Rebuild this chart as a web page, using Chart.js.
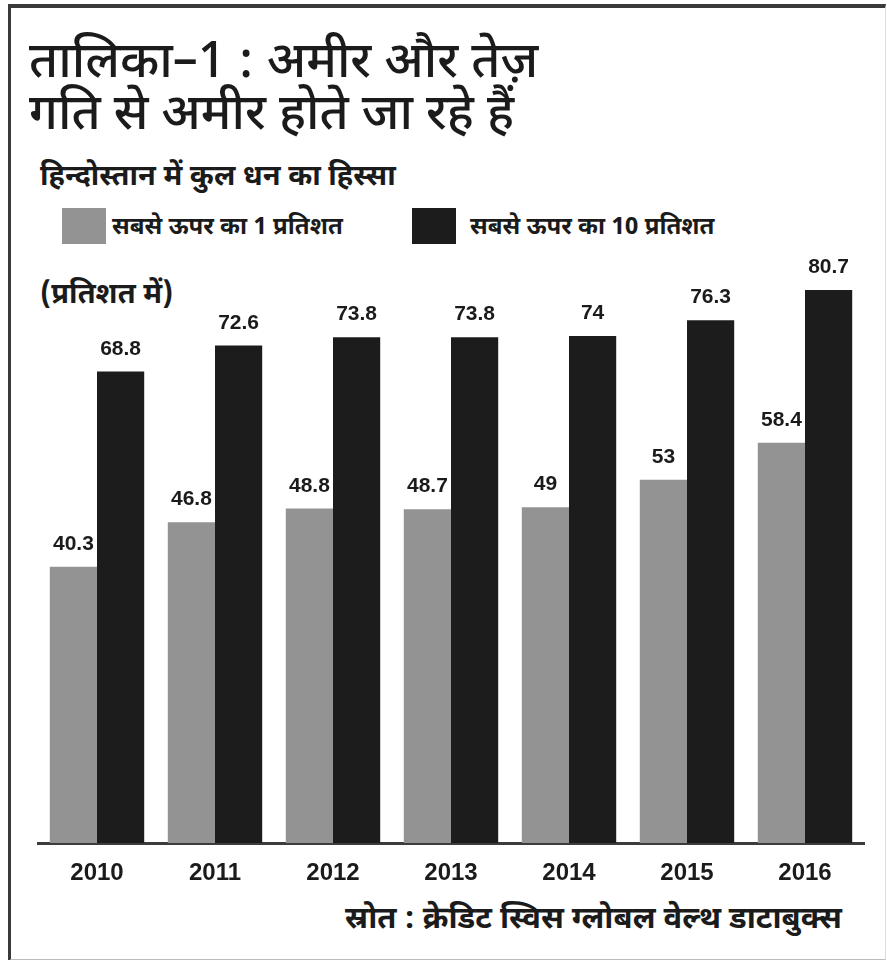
<!DOCTYPE html>
<html>
<head>
<meta charset="utf-8">
<script src="https://cdn.jsdelivr.net/npm/chart.js@4"></script>
<style>
  html, body { margin: 0; padding: 0; background: #fff; }
  body { width: 887px; height: 960px; position: relative; overflow: hidden;
         font-family: "Noto Sans Devanagari", "Lohit Devanagari", "Noto Sans", sans-serif; color: #1b1b1b; }
  #frame { position: absolute; left: 8px; top: 4px; width: 874px; height: 951px;
           border-top: 4px solid #3a3a3a; border-left: 3px solid #3a3a3a;
           border-bottom: 2px solid #bbb; border-right: 1px solid #ddd; }
  .t { position: absolute; white-space: nowrap; }
  #title { left: 29px; top: 39px; font-size: 50px; line-height: 52px; font-weight: 500; }
  #sub { left: 40px; top: 162px; font-size: 29px; line-height: 32px; font-weight: 700; }
  #unit { left: 40px; top: 280px; font-size: 29px; line-height: 32px; font-weight: 700; }
  #source { right: 45px; top: 904px; font-size: 31px; line-height: 34px; font-weight: 700; }
  .lg { position: absolute; top: 208px; height: 36px; }
  .box { position: absolute; top: 0; width: 44px; height: 36px; }
  .lt { position: absolute; top: 6px; font-size: 24px; line-height: 28px; font-weight: 700; white-space: nowrap; }
  canvas { position: absolute; left: 0; top: 0; }
</style>
</head>
<body>
<div id="frame"></div>
<div id="title" class="t">तालिका–1 : अमीर और तेज़<br>गति से अमीर होते जा रहे हैं</div>
<div id="sub" class="t">हिन्दोस्तान में कुल धन का हिस्सा</div>
<div id="legend"></div>
<div id="unit" class="t">(प्रतिशत में)</div>
<div id="source" class="t">स्रोत : क्रेडिट स्विस ग्लोबल वेल्थ डाटाबुक्स</div>
<canvas id="myChart" width="887" height="960"></canvas>
<script>
const years = ["2010", "2011", "2012", "2013", "2014", "2015", "2016"];
const top1 = [40.3, 46.8, 48.8, 48.7, 49, 53, 58.4];
const top10 = [68.8, 72.6, 73.8, 73.8, 74, 76.3, 80.7];
const seriesNames = ["सबसे ऊपर का 1 प्रतिशत", "सबसे ऊपर का 10 प्रतिशत"];
const colors = ["#939393", "#1c1c1c"];

// legend in html, positioned like the print
const legendX = [62, 412];
const legendEl = document.getElementById("legend");
seriesNames.forEach((name, i) => {
  const g = document.createElement("div");
  g.className = "lg";
  g.style.left = legendX[i] + "px";
  g.innerHTML = '<div class="box" style="left:0;background:' + colors[i] + '"></div>' +
    '<div class="lt" style="left:' + (i ? 58 : 50) + 'px">' + name + '</div>';
  legendEl.appendChild(g);
});

const numFont = "'Liberation Sans Narrow', 'Arial Narrow', 'Liberation Sans', sans-serif";

const valueLabels = {
  id: "valueLabels",
  afterDatasetsDraw(chart) {
    const ctx = chart.ctx;
    ctx.save();
    ctx.fillStyle = "#1b1b1b";
    ctx.font = "bold 21px " + numFont;
    ctx.textAlign = "center";
    ctx.textBaseline = "alphabetic";
    chart.data.datasets.forEach((ds, i) => {
      chart.getDatasetMeta(i).data.forEach((bar, j) => {
        ctx.fillText(String(ds.data[j]), bar.x, bar.y - 17);
      });
    });
    ctx.restore();
  },
};

const config = {
  type: "bar",
  data: {
    labels: years,
    datasets: [
      { label: seriesNames[0], data: top1, backgroundColor: colors[0] },
      { label: seriesNames[1], data: top10, backgroundColor: colors[1] },
    ],
  },
  options: {
    responsive: false,
    animation: false,
    events: [],
    categoryPercentage: 0.8,
    barPercentage: 1.0,
    layout: { padding: { left: 38, right: 23, top: 240, bottom: 77 } },
    plugins: { legend: { display: false }, title: { display: false }, tooltip: { enabled: false } },
    scales: {
      y: { display: false, min: 0, max: 88 },
      x: {
        grid: { display: true, drawOnChartArea: false, drawTicks: false },
        border: { display: true, color: "#3c3c3c", width: 3 },
        ticks: { color: "#1b1b1b", padding: 16, font: { family: numFont, size: 24, weight: "bold" } },
        afterFit(scale) { scale.height = 40; },
      },
    },
  },
  plugins: [valueLabels],
};

const myChart = new Chart(document.getElementById("myChart"), config);
</script>
</body>
</html>
